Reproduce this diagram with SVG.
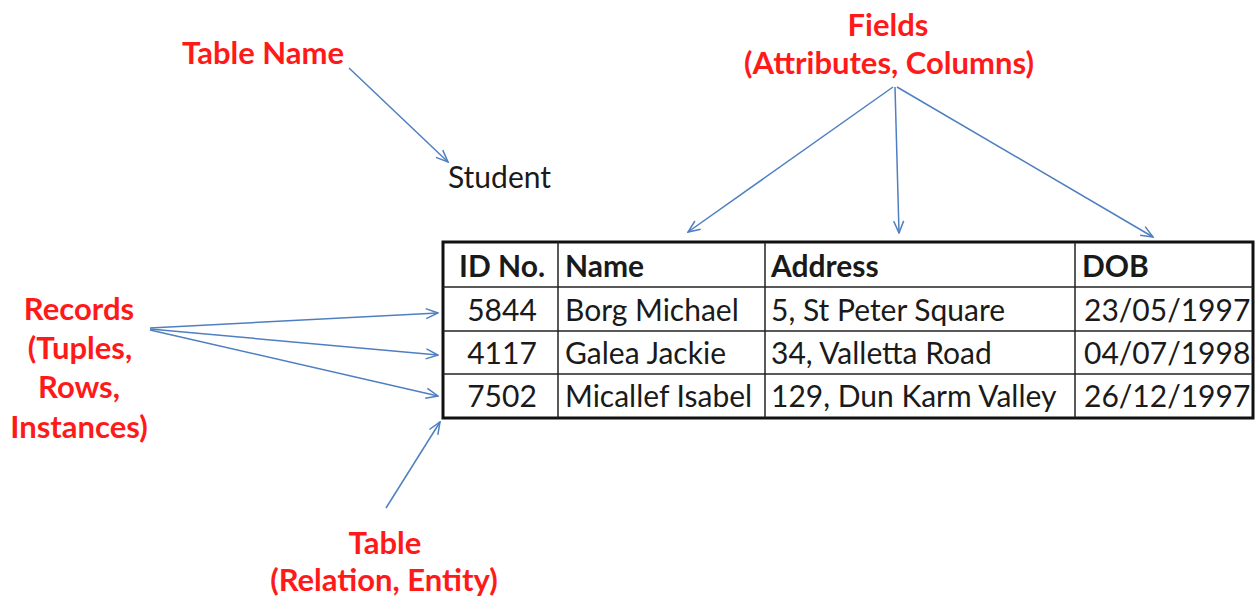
<svg xmlns="http://www.w3.org/2000/svg" width="1258" height="598" viewBox="0 0 1258 598">
<style>
.red{font-family:Lato,"Liberation Sans",sans-serif;font-weight:bold;fill:#ff1a1a;font-size:31px;text-anchor:middle}
.cell{font-family:Lato,"Liberation Sans",sans-serif;fill:#1a1a1a;font-size:30px}
.hd{font-weight:bold}
.c{text-anchor:middle}
.arr{stroke:#4f7fc0;stroke-width:1.5;fill:none;marker-end:url(#ah)}
.grid{stroke:#222;stroke-width:1.5}
</style>
<defs>
<marker id="ah" viewBox="0 0 14 12" refX="13" refY="6" markerWidth="14" markerHeight="12" markerUnits="userSpaceOnUse" orient="auto">
<polyline points="1,1 13,6 1,11" fill="none" stroke="#4f7fc0" stroke-width="1.5"/>
</marker>
</defs>
<rect width="1258" height="598" fill="#fff"/>
<g id="connectors">
<line class="arr" x1="349" y1="68" x2="448" y2="162"/>
<line class="arr" x1="893" y1="87" x2="688" y2="232"/>
<line class="arr" x1="895" y1="87" x2="899" y2="233"/>
<line class="arr" x1="897" y1="87" x2="1153" y2="237"/>
<line class="arr" x1="150" y1="328" x2="438" y2="313"/>
<line class="arr" x1="150" y1="329" x2="438" y2="355"/>
<line class="arr" x1="150" y1="330" x2="438" y2="396"/>
<line class="arr" x1="386" y1="508" x2="440" y2="422"/>
</g>
<g id="label-table-name"><text class="red" x="263" y="64">Table Name</text></g>
<g id="label-fields"><text class="red" x="888" y="36">Fields</text><text class="red" x="889" y="74">(Attributes, Columns)</text></g>
<g id="label-records"><text class="red" x="79" y="320">Records</text><text class="red" x="80" y="359">(Tuples,</text><text class="red" x="79" y="398">Rows,</text><text class="red" x="79" y="438">Instances)</text></g>
<g id="label-table"><text class="red" x="385" y="554">Table</text><text class="red" x="384" y="591">(Relation, Entity)</text></g>
<g id="table-name"><text class="cell" x="448" y="188">Student</text></g>
<g id="table">
<rect x="443" y="242" width="810" height="176" fill="#fff" stroke="#111" stroke-width="3"/>
<line class="grid" x1="443" y1="287" x2="1253" y2="287"/>
<line class="grid" x1="443" y1="331" x2="1253" y2="331"/>
<line class="grid" x1="443" y1="374" x2="1253" y2="374"/>
<line class="grid" x1="558" y1="242" x2="558" y2="418"/>
<line class="grid" x1="765" y1="242" x2="765" y2="418"/>
<line class="grid" x1="1075" y1="242" x2="1075" y2="418"/>
<text class="cell hd" x="459" y="277">ID No.</text>
<text class="cell hd" x="565" y="277">Name</text>
<text class="cell hd" x="771" y="277">Address</text>
<text class="cell hd" x="1082" y="277">DOB</text>
<text class="cell c" x="502" y="321">5844</text>
<text class="cell" x="565" y="321">Borg Michael</text>
<text class="cell" x="771" y="321">5, St Peter Square</text>
<text class="cell" x="1084" y="321">23/05/1997</text>
<text class="cell c" x="502" y="364">4117</text>
<text class="cell" x="565" y="364">Galea Jackie</text>
<text class="cell" x="771" y="364">34, Valletta Road</text>
<text class="cell" x="1084" y="364">04/07/1998</text>
<text class="cell c" x="502" y="407">7502</text>
<text class="cell" x="565" y="407">Micallef Isabel</text>
<text class="cell" x="771" y="407">129, Dun Karm Valley</text>
<text class="cell" x="1084" y="407">26/12/1997</text>
</g>
</svg>
